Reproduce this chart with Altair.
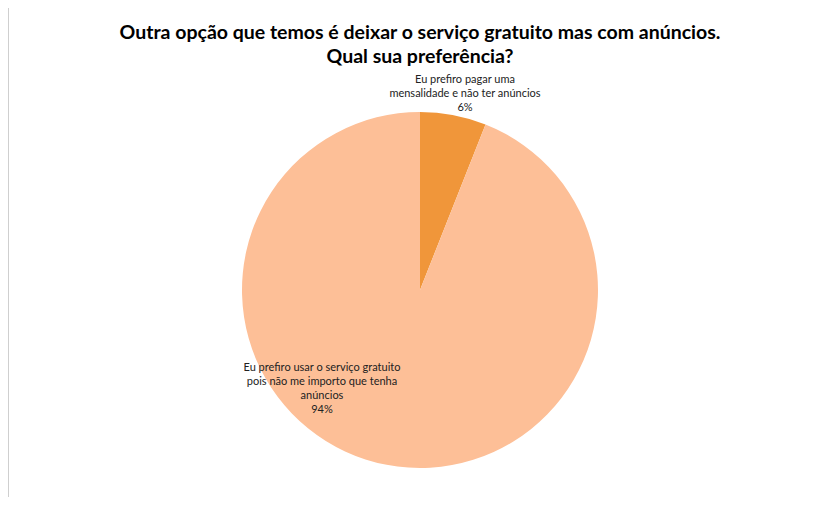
import altair as alt
import pandas as pd

title_lines = ["Outra opção que temos é deixar o serviço gratuito mas com anúncios.",
               "Qual sua preferência?"]
label_lines = ["Eu prefiro pagar uma|mensalidade e não ter anúncios",
               "Eu prefiro usar o serviço gratuito|pois não me importo que tenha|anúncios"]
shares = [6, 94]
slice_order = [0, 1]
colors = ["#F0963A", "#FDBF97"]

df = pd.DataFrame({"label": label_lines, "share": shares, "order": slice_order})

CX, CY, R = 412, 282, 178

frame = alt.Chart(pd.DataFrame({"k": [0]})).mark_rect(
    fill="white", stroke="#cfcfcf", strokeWidth=2
).encode(x=alt.value(0), y=alt.value(-1), x2=alt.value(900), y2=alt.value(700))

base = alt.Chart(df)
pie = base.mark_arc(outerRadius=R).encode(
    theta=alt.Theta("share:Q", stack=True),
    color=alt.Color("label:N", scale=alt.Scale(domain=label_lines, range=colors), legend=None),
    order=alt.Order("order:Q"),
    x=alt.value(CX), y=alt.value(CY),
)

def label_layer(idx, x, y):
    return base.transform_filter(alt.datum.order == idx).transform_calculate(
        txt="split(datum.label + '|' + format(datum.share/100, '.0%'), '|')"
    ).mark_text(font="Lato", fontSize=11, align="center", baseline="middle",
                lineHeight=14, color="#222222").encode(
        text="txt:N", x=alt.value(x), y=alt.value(y)
    )

lab1 = label_layer(0, 457, 72)
lab2 = label_layer(1, 314, 360)

title = alt.Chart(pd.DataFrame({"k": [0]})).mark_text(
    text=title_lines, font="Lato", fontSize=19.5, fontWeight="bold",
    align="center", baseline="middle", lineHeight=24, color="#000000"
).encode(x=alt.value(CX), y=alt.value(25))

chart = alt.layer(frame, pie, lab1, lab2, title).properties(
    width=811, height=489, autosize=alt.AutoSizeParams(type="none"), padding=0
).configure_view(stroke=None)

chart.save("out.html", embed_options={"renderer": "svg", "actions": False})
